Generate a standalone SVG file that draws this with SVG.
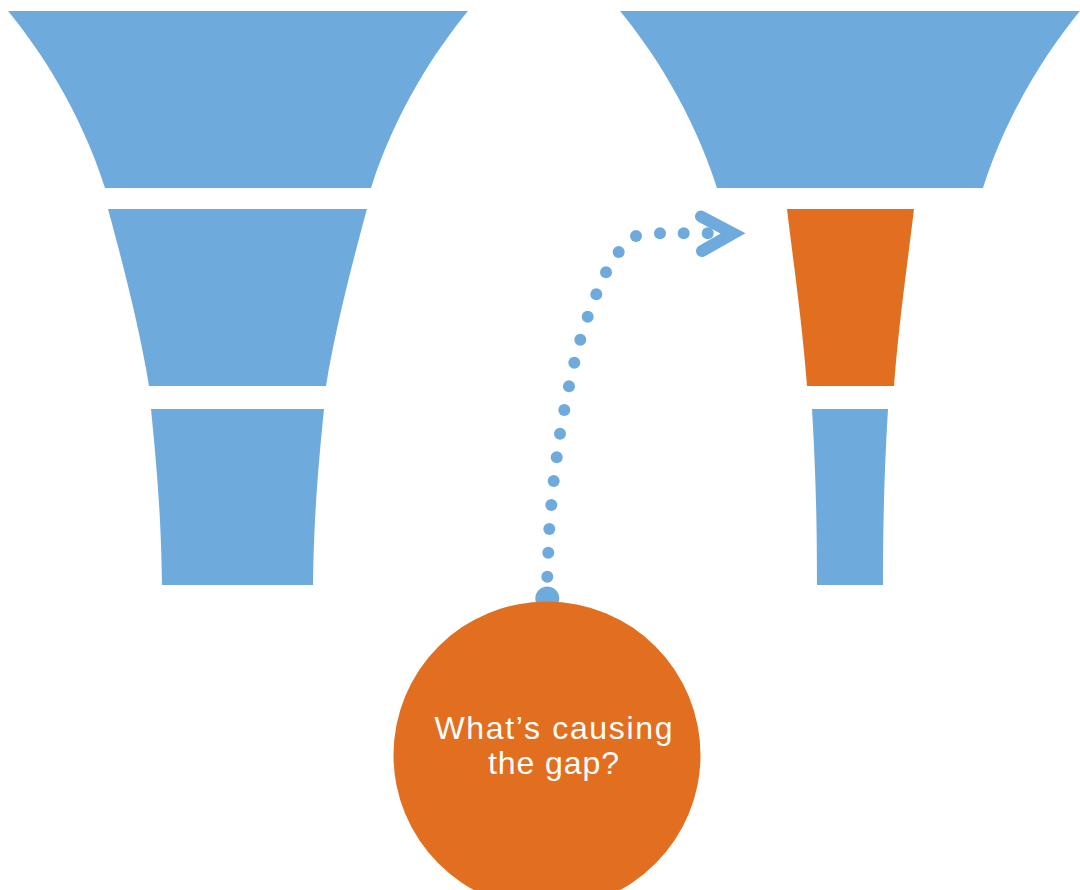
<svg xmlns="http://www.w3.org/2000/svg" width="1080" height="890" viewBox="0 0 1080 890">
<style>
.blue{fill:#6FAADC}
.orange{fill:#E26F1F}
.dot{fill:#6FAADC}
.label{font-family:"Liberation Sans",Arial,sans-serif;font-size:32px;fill:#FFFFFF;text-anchor:middle}
</style>
<rect width="1080" height="890" fill="#FFFFFF"/>
<g id="funnel-left">
<path id="left-stage1" class="blue" d="M8,11 L468,11 C436,50 396,110 371,188 L105,188 C80,110 40,50 8,11 Z"/>
<path id="left-stage2" class="blue" d="M108,209 L367,209 C353,260 335,330 326,386 L149,386 C140,330 122,260 108,209 Z"/>
<path id="left-stage3" class="blue" d="M151,409 L324,409 C319,460 314,510 313,585 L162,585 C161,510 156,460 151,409 Z"/>
</g>
<g id="funnel-right">
<path id="right-stage1" class="blue" d="M620,11 L1080,11 C1048,50 1008,110 983,188 L717,188 C692,110 652,50 620,11 Z"/>
<path id="right-stage2" class="orange" d="M787,209 L914,209 C908,260 899,320 894,386 L807,386 C802,320 793,260 787,209 Z"/>
<path id="right-stage3" class="blue" d="M812,409 L888,409 C885,460 883,510 883,585 L817,585 C817,510 815,460 812,409 Z"/>
</g>
<g id="connectors">
<circle class="dot" cx="547.3" cy="598.5" r="12"/>
<circle class="dot" cx="547.3" cy="576.7" r="6"/>
<circle class="dot" cx="548.3" cy="552.7" r="6"/>
<circle class="dot" cx="549.3" cy="529" r="6"/>
<circle class="dot" cx="551.3" cy="505" r="6"/>
<circle class="dot" cx="553.7" cy="481" r="6"/>
<circle class="dot" cx="556.7" cy="457.3" r="6"/>
<circle class="dot" cx="560" cy="433.7" r="6"/>
<circle class="dot" cx="564.3" cy="410" r="6"/>
<circle class="dot" cx="569" cy="386.3" r="6"/>
<circle class="dot" cx="574.3" cy="362.7" r="6"/>
<circle class="dot" cx="580.3" cy="339.7" r="6"/>
<circle class="dot" cx="587.7" cy="316.7" r="6"/>
<circle class="dot" cx="596.3" cy="294.3" r="6"/>
<circle class="dot" cx="606" cy="272.3" r="6"/>
<circle class="dot" cx="618.7" cy="252" r="6"/>
<circle class="dot" cx="636" cy="236" r="6"/>
<circle class="dot" cx="660" cy="233.3" r="6"/>
<circle class="dot" cx="683.7" cy="233.3" r="6"/>
<circle class="dot" cx="707.7" cy="233.3" r="6"/>
<path d="M701,216.5 L733,233.5 L702,251" fill="none" stroke="#6FAADC" stroke-width="12" stroke-linecap="round" stroke-linejoin="miter" stroke-miterlimit="10"/>
</g>
<g id="question">
<circle class="orange" cx="547" cy="755" r="153.5"/>
<text class="label" x="553.5" y="739" textLength="238" lengthAdjust="spacing">What’s causing</text>
<text class="label" x="553.5" y="774" textLength="131" lengthAdjust="spacing">the gap?</text>
</g>
</svg>
